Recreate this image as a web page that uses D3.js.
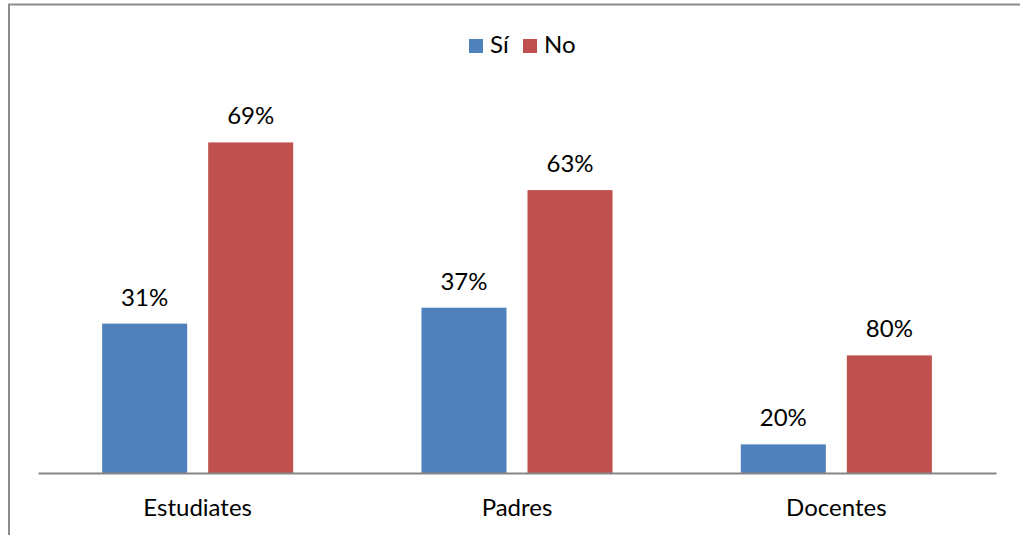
<!DOCTYPE html>
<html>
<head>
<meta charset="utf-8">
<script src="https://cdn.jsdelivr.net/npm/d3@7"></script>
<style>
  html, body { margin: 0; padding: 0; background: #fff; }
  svg { display: block; }
  text { font-family: Lato, "Open Sans", sans-serif; fill: #000; }
</style>
</head>
<body>
<svg id="chart" width="1020" height="535"></svg>
<script>
const categories = ["Estudiates", "Padres", "Docentes"];
const seriesNames = ["Sí", "No"];
const siValues = [47, 52, 9];
const noValues = [104, 89, 37];
const siLabels = ["31%", "37%", "20%"];
const noLabels = ["69%", "63%", "80%"];
const colors = ["#4f81bd", "#c0504d"];

const svg = d3.select("#chart");
const W = 1020, H = 535;
const FS = 24;

// outer frame
svg.append("path")
  .attr("d", `M9,${H} L9,4.5 L${W},4.5`)
  .attr("fill", "none").attr("stroke", "#8c8c8c").attr("stroke-width", 2);

const plot = { left: 38, right: 996, top: 28, bottom: 473 };

const x = d3.scaleBand().domain(categories).range([plot.left, plot.right]).paddingInner(0).paddingOuter(0);
const x1 = d3.scaleBand().domain(seriesNames).range([0, x.bandwidth()]).paddingInner(0.198).paddingOuter(0.605);
const y = d3.scaleLinear().domain([0, 140]).range([plot.bottom, plot.top]);

const data = categories.map((c, i) => ({
  cat: c,
  vals: [
    { s: seriesNames[0], v: siValues[i], lab: siLabels[i], col: colors[0] },
    { s: seriesNames[1], v: noValues[i], lab: noLabels[i], col: colors[1] }
  ]
}));

const g = svg.append("g");
const groups = g.selectAll("g.grp").data(data).join("g")
  .attr("transform", d => `translate(${x(d.cat)},0)`);

groups.selectAll("rect").data(d => d.vals).join("rect")
  .attr("x", d => x1(d.s))
  .attr("width", x1.bandwidth())
  .attr("y", d => y(d.v))
  .attr("height", d => y(0) - y(d.v))
  .attr("fill", d => d.col);

groups.selectAll("text.lab").data(d => d.vals).join("text")
  .attr("class", "lab")
  .attr("x", d => x1(d.s) + x1.bandwidth() / 2)
  .attr("y", d => y(d.v) - 18)
  .attr("text-anchor", "middle")
  .attr("font-size", FS)
  .text(d => d.lab);

// x axis
const xAxis = d3.axisBottom(x).tickSize(0).tickPadding(26);
const ax = svg.append("g").attr("transform", `translate(0,${plot.bottom})`).call(xAxis);
ax.attr("font-size", FS).attr("font-family", "Lato, 'Open Sans', sans-serif");
ax.select(".domain").attr("stroke", "#868686").attr("stroke-width", 2);
ax.selectAll("text").attr("font-size", FS).attr("fill", "#000");

// legend
const legend = svg.append("g").attr("transform", "translate(469,39)");
const legItems = [
  { name: seriesNames[0], col: colors[0], x: 0 },
  { name: seriesNames[1], col: colors[1], x: 54 }
];
const li = legend.selectAll("g").data(legItems).join("g")
  .attr("transform", d => `translate(${d.x},0)`);
li.append("rect").attr("width", 14).attr("height", 14).attr("fill", d => d.col);
li.append("text").attr("x", 21).attr("y", 14).attr("font-size", FS).text(d => d.name);
</script>
</body>
</html>
